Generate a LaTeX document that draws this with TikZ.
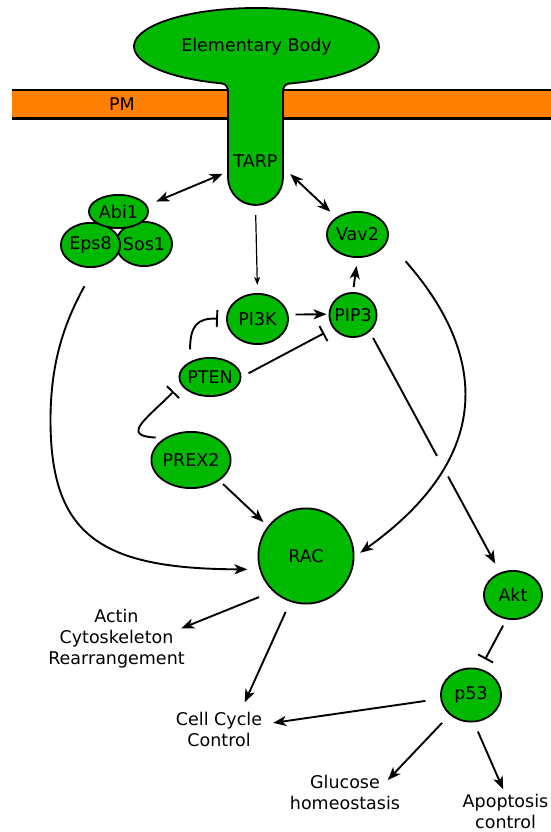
\documentclass[tikz,border=0pt]{standalone}
\usepackage{fontspec}
\setmainfont{DejaVu Sans}
\usetikzlibrary{arrows.meta,shapes.geometric,calc}
\definecolor{cellgreen}{RGB}{0,185,0}
\definecolor{membrane}{RGB}{255,128,0}
\tikzset{
protein/.style={
  ellipse,
  draw,
  fill=cellgreen,
  line width=1.8pt,
  inner xsep=-4pt,
  inner ysep=0pt},
outcome/.style={align=center, inner sep=0pt},
line/.style={draw, line width=1.9pt, -{Stealth[length=13pt,width=10pt,inset=3.5pt]}},
thinline/.style={draw, line width=1.2pt, -{Stealth[length=8pt,width=6pt,inset=2pt]}},
twoway/.style={draw, line width=1.9pt, {Stealth[length=13pt,width=10pt,inset=3.5pt]}-{Stealth[length=13pt,width=10pt,inset=3.5pt]}},
inhibit/.style={draw, line width=1.9pt, -{Bar[width=17pt]}}
}
\begin{document}
\begin{tikzpicture}[x=1pt, y=-1pt, font=\fontsize{17.5}{21}\selectfont]
    \useasboundingbox (0,0) rectangle (551,832);
    % plasma membrane
    \fill [membrane] (12,90) rectangle (560,118.7);
    \draw [line width=2.7pt] (12,90) -- (560,90);
    \draw [line width=2.7pt] (12,118.7) -- (560,118.7);
    % elementary body with TARP
    \draw [fill=cellgreen, line width=1.8pt] (283,92) .. controls (283,87) and (285,84) .. (289,83.6)
      arc [start angle=74.6, end angle=-253.6, x radius=122.5, y radius=38.5]
      .. controls (226,84) and (228,87) .. (228,92) -- (228,177.5)
      arc [start angle=180, end angle=0, radius=27.5] -- cycle;
    \node (eb) at (256.5,47) {Elementary Body};
    \node (pm) at (122,104) {PM};
    \node [minimum width=55pt, minimum height=90pt, inner sep=0pt] (tarp) at (255.5,161) {TARP};
    % proteins
    \node [protein, minimum width=56.2pt, minimum height=44.2pt] (sos1) at (144,244) {Sos1};
    \node [protein, minimum width=59.2pt, minimum height=44.2pt] (eps8) at (90.5,245) {Eps8};
    \node [protein, minimum width=59.2pt, minimum height=33.2pt] (abi1) at (118.5,211.5) {Abi1};
    \node [protein, minimum width=61.2pt, minimum height=45.2pt] (vav2) at (357.5,234.5) {Vav2};
    \node [protein, minimum width=61.2pt, minimum height=50.2pt] (pi3k) at (257.5,319) {PI3K};
    \node [protein, minimum width=47.2pt, minimum height=44.2pt] (pip3) at (353,315) {PIP3};
    \node [protein, minimum width=61.2pt, minimum height=38.2pt] (pten) at (210,377) {PTEN};
    \node [protein, minimum width=79.2pt, minimum height=56.2pt] (prex2) at (191,460) {PREX2};
    \node [protein, circle, minimum size=95.2pt] (rac) at (306,556) {RAC};
    \node [protein, minimum width=58.2pt, minimum height=48.2pt] (akt) at (513,595) {Akt};
    \node [protein, minimum width=60.2pt, minimum height=53.2pt] (p53) at (471,695) {p53};
    % outcomes
    \node [outcome] (actin) at (116.5,639) {Actin\\Cytoskeleton\\Rearrangement};
    \node [outcome] (cellcycle) at (219,729) {Cell Cycle\\Control};
    \node [outcome] (glucose) at (345,792) {Glucose\\homeostasis};
    \node [outcome] (apoptosis) at (505.5,811.5) {Apoptosis\\control};
    % connectors
    \path [twoway, shorten <=5.5pt, shorten >=10pt] (tarp.201) -- (abi1.12);
    \path [twoway, shorten <=9.7pt, shorten >=8pt] (tarp.-13) -- (vav2.141);
    \path [thinline, shorten <=9pt, shorten >=8pt] (tarp.south) -- (pi3k.north);
    \path [line, shorten <=7pt, shorten >=2pt] (pi3k.8) -- (pip3.178);
    \path [line, shorten <=5pt, shorten >=8pt] (pip3.north) -- (vav2.south);
    \path [inhibit, shorten <=12pt, shorten >=8pt] (pten.142) .. controls (190,325) and (198,318) .. (pi3k.west);
    \path [inhibit, shorten <=8pt, shorten >=10pt] (pten.east) -- (pip3.214);
    \path [inhibit, shorten <=9pt, shorten >=10pt] (prex2.140) .. controls (120,436) and (146.5,419) .. (pten.194);
    \path [line, shorten <=5pt, shorten >=6pt] (prex2.-36) -- (rac.142);
    \path [line, shorten <=21pt, shorten >=12pt] (eps8.-80) .. controls (65.7,320.3) and (50.5,360) .. (50.5,420)
      .. controls (50.5,535) and (100,569) .. (rac.196);
    \path [line, shorten <=27pt, shorten >=7pt] (vav2.-12) .. controls (490,357.5) and (492,458.4) .. (rac.-1.5);
    \coordinate (jumpa) at ($(pip3.-45)!0.516!(akt.120)$);
    \coordinate (jumpb) at ($(pip3.-45)!0.601!(akt.120)$);
    \path [draw, line width=1.9pt, shorten <=7pt] (pip3.-45) -- (jumpa);
    \path [line, shorten >=10pt] (jumpb) -- (akt.120);
    \path [inhibit, shorten <=7pt, shorten >=10.7pt] (akt.255) -- (p53.71.5);
    \path [line, shorten <=15pt, shorten >=-4pt] (rac.227) -- (actin.10);
    \path [line, shorten <=11pt, shorten >=10pt] (rac.251.5) -- (cellcycle.39);
    \path [line, shorten <=15pt, shorten >=11pt] (p53.187) -- (cellcycle.6);
    \path [line, shorten <=11pt, shorten >=-7.6pt] (p53.223) -- (glucose.20);
    \path [line, shorten <=10pt, shorten >=5pt] (p53.276) -- (apoptosis.91);
\end{tikzpicture}
\end{document}
